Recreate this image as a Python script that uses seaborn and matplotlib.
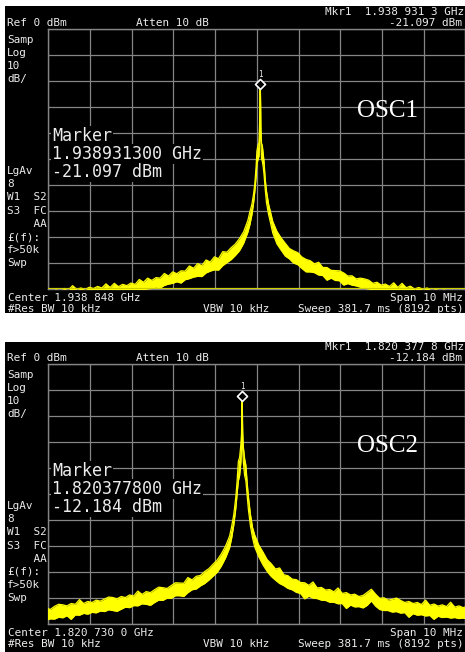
import numpy as np
import pandas as pd
import matplotlib
matplotlib.use("Agg")
import matplotlib.pyplot as plt
import seaborn as sns
from matplotlib.patches import Rectangle

# ---------------- data ----------------
osc_names = ["OSC1", "OSC2"]
mkr_labels = ["Mkr1  1.938 931 3 GHz", "Mkr1  1.820 377 8 GHz"]
mkr_levels = ["-21.097 dBm", "-12.184 dBm"]
marker_freqs = ["1.938931300 GHz", "1.820377800 GHz"]
center_labels = ["Center 1.938 848 GHz", "Center 1.820 730 0 GHz"]
peak_offset_mhz = [0.083, -0.352]      # marker offset from centre, MHz
peak_dbm = [-21.097, -12.184]
x_ticks = [-5, -4, -3, -2, -1, 0, 1, 2, 3, 4, 5]          # 1 MHz / div
y_ticks = [-100, -90, -80, -70, -60, -50, -40, -30, -20, -10, 0]  # 10 dB / div

# OSC1 trace envelope (offset from peak in MHz, upper / lower dBm)
dx1_left = [-5.1, -5.0, -4.9, -4.8, -4.7, -4.6, -4.5, -4.4, -4.3, -4.2, -4.1, -4.0,
            -3.9, -3.8, -3.7, -3.6, -3.5, -3.4, -3.3, -3.2, -3.1, -3.0, -2.9, -2.8,
            -2.7, -2.6, -2.5, -2.4, -2.3, -2.2, -2.1, -2.0, -1.9, -1.8, -1.7, -1.6,
            -1.5, -1.4, -1.3, -1.2, -1.1, -1.0, -0.9, -0.8, -0.7, -0.6, -0.5, -0.4, -0.3]
hi1_left = [-100.5, -100.5, -100.2, -100.5, -100.0, -100.5, -98.9, -100.3, -99.8, -100.4,
            -99.5, -100.0, -99.2, -99.8, -98.2, -99.6, -98.0, -99.3, -98.4, -98.9, -97.9,
            -98.4, -96.5, -97.6, -96.0, -96.9, -95.8, -96.0, -94.2, -95.2, -93.6, -94.3,
            -93.2, -93.3, -91.3, -92.2, -90.4, -91.2, -89.0, -89.8, -87.8, -88.5, -85.8,
            -86.0, -84.3, -82.9, -80.8, -78.2, -73.9]
lo1_left = [-101, -101, -101, -101, -101, -101, -101, -101, -101, -101, -101, -101,
            -101, -101, -101, -101, -101, -101, -101, -101, -101, -101, -100.8, -100.6,
            -100.2, -100.0, -99.4, -99.8, -98.8, -98.3, -98.0, -97.4, -97.9, -96.6, -96.2,
            -95.6, -95.3, -95.4, -94.0, -93.3, -92.8, -92.9, -91.2, -90.0, -88.9, -87.3,
            -85.5, -82.6, -78.4]
dx1_peak = [-0.25, -0.2, -0.16, -0.13, -0.10, -0.08, -0.05, -0.03, -0.015, -0.006, 0.0,
            0.006, 0.015, 0.03, 0.05, 0.07, 0.09, 0.12, 0.15, 0.2, 0.25]
hi1_peak = [-70.5, -67.5, -63.5, -59.5, -53, -47, -44.5, -44, -36, -26, -21.097,
            -26, -38, -44, -45, -48, -51, -58, -62.5, -67.5, -70.8]
lo1_peak = [-75.5, -71.5, -67, -62.5, -57, -52, -50, -49, -41, -30, -22,
            -30, -43, -50, -51, -53, -56, -62, -67, -71.5, -75.0]
dx1_right = [0.3, 0.4, 0.5, 0.6, 0.7, 0.8, 0.9, 1.0, 1.1, 1.2, 1.3, 1.4, 1.5, 1.6, 1.7,
             1.8, 1.9, 2.0, 2.1, 2.2, 2.3, 2.4, 2.5, 2.6, 2.7, 2.8, 2.9, 3.0, 3.1, 3.2,
             3.3, 3.4, 3.5, 3.6, 3.7, 3.8, 3.9, 4.0, 4.1, 4.2, 4.3, 4.4, 4.5, 4.6, 4.7,
             4.8, 4.9, 5.0]
hi1_right = [-74.2, -78.0, -80.5, -82.6, -84.6, -85.5, -86.2, -87.9, -88.8, -89.3, -90.5,
             -89.9, -91.9, -91.9, -93.0, -93.1, -93.2, -94.0, -95.2, -95.1, -96.3, -96.0,
             -96.3, -96.8, -98.0, -97.6, -98.7, -98.3, -99.2, -97.8, -99.6, -98.0, -99.7,
             -99.1, -100.2, -99.6, -100.3, -99.8, -100.5, -100.1, -100.5, -100.2, -100.6,
             -100.3, -100.6, -100.4, -100.6, -100.5]
lo1_right = [-78.6, -82.8, -85.2, -87.5, -88.6, -90.2, -90.8, -92.3, -93.6, -93.6, -93.9,
             -94.8, -95.0, -96.8, -96.0, -96.9, -97.0, -98.7, -98.1, -98.7, -99.0, -99.5,
             -100.0, -100.3, -100.8, -101, -101, -101, -101, -101, -101, -101, -101, -101,
             -101, -101, -101, -101, -101, -101, -101, -101, -101, -101, -101, -101, -101,
             -101]

# OSC2 trace envelope
dx2_left = [-4.7, -4.6, -4.5, -4.4, -4.3, -4.2, -4.1, -4.0, -3.9, -3.8, -3.7, -3.6, -3.5,
            -3.4, -3.3, -3.2, -3.1, -3.0, -2.9, -2.8, -2.7, -2.6, -2.5, -2.4, -2.3, -2.2,
            -2.1, -2.0, -1.9, -1.8, -1.7, -1.6, -1.5, -1.4, -1.3, -1.2, -1.1, -1.0, -0.9,
            -0.8, -0.7, -0.6, -0.5, -0.4, -0.3]
hi2_left = [-94.0, -94.6, -93.4, -92.6, -92.8, -93.2, -92.3, -92.6, -90.8, -92.3, -91.5,
            -91.9, -91.0, -91.4, -90.6, -89.8, -90.0, -90.5, -89.6, -90.0, -89.0, -89.4,
            -87.5, -88.8, -87.7, -88.1, -87.0, -86.0, -86.2, -86.5, -85.4, -84.3, -84.4,
            -84.5, -82.3, -83.2, -81.8, -81.5, -80.0, -78.9, -77.2, -75.6, -73.2, -70.3,
            -66.3]
lo2_left = [-98.7, -98.2, -98.3, -97.6, -97.8, -97.0, -98.4, -96.7, -96.8, -96.1, -96.4,
            -95.7, -95.9, -95.2, -95.4, -94.7, -95.0, -95.3, -94.5, -93.7, -93.9, -93.1,
            -93.2, -92.4, -92.6, -93.0, -91.9, -91.0, -91.1, -90.2, -90.3, -89.3, -89.3,
            -89.6, -88.1, -87.0, -86.7, -85.5, -84.6, -83.3, -81.8, -80.3, -77.9, -74.8,
            -70.8]
dx2_peak = [-0.25, -0.2, -0.15, -0.12, -0.09, -0.06, -0.03, -0.015, -0.006, 0.0,
            0.006, 0.015, 0.03, 0.06, 0.09, 0.12, 0.15, 0.2, 0.25]
hi2_peak = [-62.5, -58, -51, -45, -37.5, -36, -31, -27, -18, -12.184,
            -18, -27, -32, -36.5, -39, -45.5, -51, -58, -63]
lo2_peak = [-67, -62, -55.5, -50, -45, -43, -38, -32, -24, -13,
            -24, -33, -38, -43, -45, -50.5, -56, -62.5, -67]
dx2_right = [0.3, 0.4, 0.5, 0.6, 0.7, 0.8, 0.9, 1.0, 1.1, 1.2, 1.3, 1.4, 1.5, 1.6, 1.7,
             1.8, 1.9, 2.0, 2.1, 2.2, 2.3, 2.4, 2.5, 2.6, 2.7, 2.8, 2.9, 3.0, 3.1, 3.2,
             3.3, 3.4, 3.5, 3.6, 3.7, 3.8, 3.9, 4.0, 4.1, 4.2, 4.3, 4.4, 4.5, 4.6, 4.7,
             4.8, 4.9, 5.0, 5.1, 5.2, 5.3, 5.4]
hi2_right = [-65.8, -69.8, -72.5, -75.4, -77.0, -79.0, -78.6, -81.2, -81.6, -82.9, -83.1,
             -84.2, -84.3, -85.3, -84.0, -86.3, -86.1, -87.1, -86.9, -87.8, -86.3, -88.4,
             -88.1, -89.0, -88.7, -89.6, -89.2, -88.0, -86.8, -88.7, -90.3, -90.1, -91.0,
             -90.7, -90.2, -91.1, -91.9, -91.5, -92.3, -91.9, -92.7, -91.0, -93.0, -92.5,
             -93.3, -92.8, -93.5, -91.8, -93.7, -93.2, -93.9, -93.4]
lo2_right = [-70.4, -74.3, -77.4, -79.9, -81.9, -83.3, -84.6, -85.4, -86.5, -87.0, -88.0,
             -88.4, -90.5, -89.5, -90.2, -90.4, -91.0, -91.1, -91.8, -91.8, -92.4, -92.3,
             -94.2, -92.9, -93.6, -93.5, -94.0, -93.0, -91.3, -93.3, -94.6, -95.0, -95.0,
             -95.6, -95.4, -96.0, -95.8, -97.6, -96.2, -96.8, -96.6, -97.1, -96.9, -98.4,
             -97.2, -97.7, -97.5, -97.9, -97.7, -98.1, -97.9, -98.3]

traces = [
    (dx1_left + dx1_peak + dx1_right, hi1_left + hi1_peak + hi1_right, lo1_left + lo1_peak + lo1_right),
    (dx2_left + dx2_peak + dx2_right, hi2_left + hi2_peak + hi2_right, lo2_left + lo2_peak + lo2_right),
]

left_top_labels = ["Samp", "Log", "10", "dB/"]
left_low_labels = ["LgAv", "8", "W1  S2", "S3  FC", "    AA", "£(f):", "f>50k", "Swp"]

# ---------------- styling ----------------
sns.set_theme(style="dark")
plt.rcParams["font.family"] = ["DejaVu Sans Mono", "DejaVu Sans"]

W, H = 465.0, 652.0
fig = plt.figure(figsize=(W / 100, H / 100), dpi=100)
fig.patch.set_facecolor("white")


def fx(x):
    return x / W


def fy(y):
    return 1 - y / H


YEL = "#ffff00"
GRID = "#858585"
TXT = "#ececec"
MONO = "DejaVu Sans Mono"
SMALL = 7.9


def small(x, y, s, ha="left"):
    fig.text(fx(x), fy(y), s, fontsize=SMALL, family=MONO, color=TXT,
             ha=ha, va="center_baseline")


screens = [(6, 313), (342, 652)]
for i in range(2):
    dy = 335 * i
    s_top, s_bot = screens[i]
    fig.add_artist(Rectangle((fx(5), fy(s_bot)), fx(460), (s_bot - s_top) / H,
                             transform=fig.transFigure, facecolor="black",
                             edgecolor="none", zorder=0))
    gtop, gbot = 29 + dy, 288.5 + dy
    ax = fig.add_axes([fx(48.3), fy(gbot), (465.3 - 48.3) / W, (gbot - gtop) / H])
    ax.set_facecolor("black")
    ax.set_xlim(-5, 5)
    ax.set_ylim(-100, 0)
    ax.set_xticks(x_ticks)
    ax.set_yticks(y_ticks)
    ax.tick_params(length=0, labelbottom=False, labelleft=False)
    ax.grid(True, color=GRID, lw=0.9)
    ax.set_axisbelow(True)
    for sp in ax.spines.values():
        sp.set_color(GRID)
        sp.set_linewidth(1.0)

    dx, hi, lo = traces[i]
    df = pd.DataFrame({"f": np.array(dx) + peak_offset_mhz[i], "hi": hi, "lo": lo})
    ax.fill_between(df["f"], df["lo"], df["hi"], color=YEL, lw=0, zorder=3)
    sns.lineplot(data=df, x="f", y="hi", color=YEL, lw=0.9, ax=ax, zorder=4, sort=False)
    sns.lineplot(data=df, x="f", y="lo", color=YEL, lw=0.9, ax=ax, zorder=4, sort=False)
    if i == 0:
        ax.axhline(-100, color="#cfcf00", lw=1.6, zorder=5)

    # marker
    mk = pd.DataFrame({"f": [peak_offset_mhz[i]], "d": [peak_dbm[i]]})
    sns.scatterplot(data=mk, x="f", y="d", marker="D", s=26, facecolor="black",
                    edgecolor="white", linewidth=1.2, ax=ax, zorder=6)
    ax.annotate("1", (peak_offset_mhz[i], peak_dbm[i]), xytext=(0, 6.5),
                textcoords="offset points", ha="center", va="center",
                fontsize=5.5, family=MONO, color=TXT, zorder=7)
    ax.set_xlabel("")
    ax.set_ylabel("")

    # marker readout block
    for k, s in enumerate(["Marker", marker_freqs[i], mkr_levels[i]]):
        fig.text(fx(52), fy(134 + 18 * k + dy), s, fontsize=12, family=MONO,
                 color=TXT, ha="left", va="center_baseline",
                 bbox=dict(facecolor="black", edgecolor="none", pad=0.6))
    # oscillator name
    fig.text(fx(388), fy(111 + dy), osc_names[i], fontsize=18,
             family="Liberation Serif", color="white", ha="center", va="center")

    # annotations
    small(464, 11 + dy, mkr_labels[i], ha="right")
    small(7, 22 + dy, "Ref 0 dBm")
    small(136, 22 + dy, "Atten 10 dB")
    small(462, 22 + dy, mkr_levels[i], ha="right")
    for k, s in enumerate(left_top_labels):
        small(7, 39 + 13 * k + dy, s)
    for k, s in enumerate(left_low_labels):
        small(7, 170 + 13.2 * k + dy, s)
    small(8, 297 + dy, center_labels[i])
    small(463, 297 + dy, "Span 10 MHz", ha="right")
    small(8, 308 + dy, "#Res BW 10 kHz")
    small(203, 308 + dy, "VBW 10 kHz")
    small(464, 308 + dy, "Sweep 381.7 ms (8192 pts)", ha="right")

fig.savefig("out.png", dpi=100, facecolor="white")
